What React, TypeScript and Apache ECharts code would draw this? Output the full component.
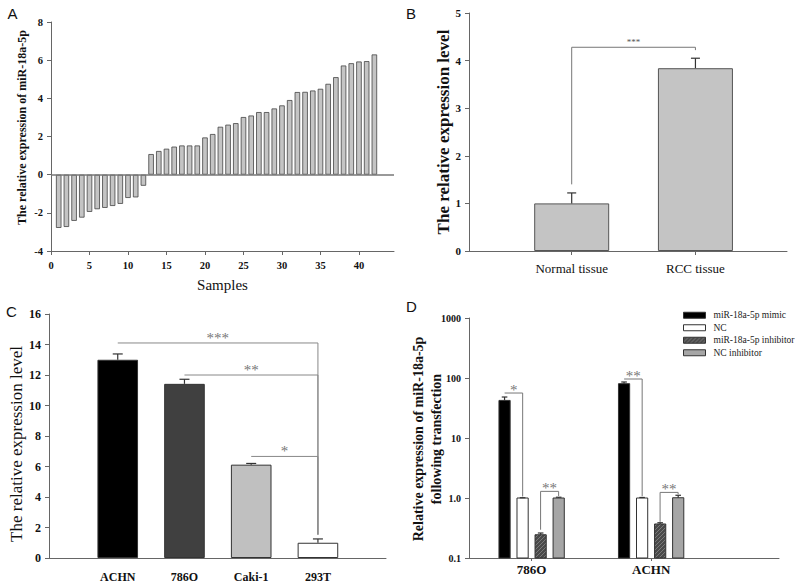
import React, { useEffect, useRef } from "react";
import * as echarts from "echarts";

// ---------- Panel A ----------
const samplesA = [1, 2, 3, 4, 5, 6, 7, 8, 9, 10, 11, 12, 13, 14, 15, 16, 17, 18, 19, 20, 21, 22, 23, 24, 25, 26, 27, 28, 29, 30, 31, 32, 33, 34, 35, 36, 37, 38, 39, 40, 41, 42];
const valuesA = [-2.79, -2.74, -2.42, -2.25, -1.95, -1.81, -1.74, -1.64, -1.53, -1.22, -1.19, -0.58, 1.08, 1.24, 1.36, 1.47, 1.53, 1.53, 1.53, 1.95, 2.13, 2.51, 2.62, 2.7, 3.02, 3.1, 3.28, 3.28, 3.47, 3.63, 3.91, 4.33, 4.34, 4.41, 4.5, 4.76, 5.11, 5.72, 5.84, 5.93, 5.95, 6.3];
const xTicksA = [0, 5, 10, 15, 20, 25, 30, 35, 40];

// ---------- Panel B ----------
const categoriesB = ["Normal tissue", "RCC tissue"];
const positionsB = [1, 2];
const valuesB = [1.0, 3.84];
const errorsB = [0.22, 0.21];
const bracketsB = [{ from: 1, to: 2, top: 4.28, leftBottom: 1.4, rightBottom: 4.22, label: "***" }];

// ---------- Panel C ----------
const categoriesC = ["ACHN", "786O", "Caki-1", "293T"];
const positionsC = [1, 2, 3, 4];
const valuesC = [13.0, 11.42, 6.12, 1.0];
const errorsC = [0.38, 0.3, 0.08, 0.25];
const colorsC = ["#000000", "#404040", "#c0c0c0", "#ffffff"];
const bracketsC = [
  { from: 1, to: 4, top: 14.1, leftBottom: 14.1, rightBottom: 1.53, label: "***" },
  { from: 2, to: 4, top: 12.0, leftBottom: 12.0, rightBottom: 1.53, label: "**" },
  { from: 3, to: 4, top: 6.66, leftBottom: 6.66, rightBottom: 1.53, label: "*" },
];

// ---------- Panel D ----------
const groupsD = ["786O", "ACHN"];
const groupPosD = [1, 2];
const seriesNamesD = ["miR-18a-5p mimic", "NC", "miR-18a-5p inhibitor", "NC inhibitor"];
const valuesD = [
  [42.3, 80.4],
  [1.0, 1.0],
  [0.244, 0.369],
  [1.0, 1.01],
];
const errorsD = [
  [5.9, 5.4],
  [0.01, 0.02],
  [0.017, 0.018],
  [0.03, 0.1],
];
const colorsD = ["#000000", "#ffffff", "#5a5a5a", "#a6a6a6"];
const yTicksD = [0.1, 1, 10, 100, 1000];
const bracketsD = [
  { from: 0.774, to: 0.925, top: 56.2, leftBottom: 56.2, rightBottom: 1.06, label: "*" },
  { from: 1.075, to: 1.226, top: 1.29, leftBottom: 0.296, rightBottom: 1.08, label: "**" },
  { from: 1.774, to: 1.925, top: 96.2, leftBottom: 96.2, rightBottom: 1.07, label: "**" },
  { from: 2.075, to: 2.226, top: 1.24, leftBottom: 0.4, rightBottom: 1.15, label: "**" },
];
const offsetStepD = 0.151;

const SERIF = "Liberation Serif";

function makeHatch(): any {
  try {
    const c = document.createElement("canvas");
    c.width = 4;
    c.height = 4;
    const ctx = c.getContext("2d");
    if (!ctx) return "#5a5a5a";
    ctx.fillStyle = "#4a4a4a";
    ctx.fillRect(0, 0, 4, 4);
    ctx.fillStyle = "#7a7a7a";
    ctx.fillRect(0, 0, 1, 1);
    ctx.fillRect(2, 2, 1, 1);
    ctx.fillRect(1, 3, 1, 1);
    ctx.fillRect(3, 1, 1, 1);
    return { image: c, repeat: "repeat" };
  } catch (e) {
    return "#5a5a5a";
  }
}

function errorRender(cap: number, color: string) {
  return (params: any, api: any) => {
    const x = api.value(0);
    const y = api.value(1);
    const e = api.value(2);
    const p0 = api.coord([x, y]);
    const p1 = api.coord([x, y + e]);
    return {
      type: "group",
      children: [
        { type: "line", shape: { x1: p0[0], y1: p0[1], x2: p1[0], y2: p1[1] }, style: { stroke: color, lineWidth: 1.2 } },
        { type: "line", shape: { x1: p1[0] - cap, y1: p1[1], x2: p1[0] + cap, y2: p1[1] }, style: { stroke: color, lineWidth: 1.2 } },
      ],
    };
  };
}

function bracketRender(defs: any[], fontSize: number, dy: number, color: string, starColor: string) {
  return (params: any, api: any) => {
    const x1 = api.value(0);
    const x2 = api.value(1);
    const yt = api.value(2);
    const yl = api.value(3);
    const yr = api.value(4);
    const a = api.coord([x1, yl]);
    const b = api.coord([x1, yt]);
    const c = api.coord([x2, yt]);
    const d = api.coord([x2, yr]);
    return {
      type: "group",
      children: [
        { type: "polyline", shape: { points: [a, b, c, d] }, style: { stroke: color, lineWidth: 1, fill: "none" } },
        {
          type: "text",
          x: (b[0] + c[0]) / 2,
          y: b[1] + dy,
          style: {
            text: defs[params.dataIndex].label,
            align: "center",
            verticalAlign: "middle",
            fontSize,
            fontFamily: SERIF,
            fill: starColor,
            stroke: "none",
            lineWidth: 0,
          },
        },
      ],
    };
  };
}

function dBarRender(halfW: number, yMin: number) {
  return (params: any, api: any) => {
    const x = api.value(0);
    const v = api.value(1);
    const top = api.coord([x, v]);
    const bot = api.coord([x, yMin]);
    return {
      type: "rect",
      shape: { x: top[0] - halfW, y: top[1], width: halfW * 2, height: bot[1] - top[1] },
      style: api.style(),
    };
  };
}

const axisLineStyle = { show: true, onZero: false, lineStyle: { color: "#666", width: 1 } };
const tickStyle = { show: true, length: 4, lineStyle: { color: "#666", width: 1 } };

export default function App() {
  const ref = useRef<HTMLDivElement>(null);

  useEffect(() => {
    if (!ref.current) return;
    const chart = echarts.init(ref.current, null, { renderer: "svg" });

    const hatch = makeHatch();
    const fillsD = colorsD.map((c, s) => (s === 2 ? hatch : c));

    const toBracketData = (arr: any[]) => arr.map((b) => [b.from, b.to, b.top, b.leftBottom, b.rightBottom]);
    const bracketEncode = { x: [0, 1], y: [2, 3, 4] };

    const dSeries: any[] = seriesNamesD.map((name, s) => ({
      type: "custom",
      name,
      xAxisIndex: 3,
      yAxisIndex: 3,
      renderItem: dBarRender(5.6, 0.1),
      itemStyle: { color: fillsD[s], borderColor: "#333", borderWidth: 1 },
      encode: { x: 0, y: 1 },
      data: groupPosD.map((g, i) => [g + (s - 1.5) * offsetStepD, valuesD[s][i]]),
      z: 2,
    }));
    const dErrors: any[] = [];
    seriesNamesD.forEach((_, s) => {
      groupPosD.forEach((g, i) => {
        dErrors.push([g + (s - 1.5) * offsetStepD, valuesD[s][i], errorsD[s][i]]);
      });
    });

    const option: any = {
      animation: false,
      backgroundColor: "#ffffff",
      textStyle: { fontFamily: SERIF },
      grid: [
        { left: 51, top: 22, width: 343, height: 229, containLabel: false, outerBoundsMode: "none" },
        { left: 469, top: 13, width: 318, height: 238, containLabel: false, outerBoundsMode: "none" },
        { left: 49, top: 314, width: 337, height: 244, containLabel: false, outerBoundsMode: "none" },
        { left: 469, top: 318, width: 310, height: 240, containLabel: false, outerBoundsMode: "none" },
      ],
      legend: {
        orient: "vertical",
        left: 683,
        top: 309,
        padding: 0,
        itemGap: 0,
        itemWidth: 22,
        itemHeight: 6,
        icon: "rect",
        selectedMode: false,
        textStyle: { fontFamily: SERIF, fontSize: 9.5, color: "#222", lineHeight: 12.5, padding: [0, 0, 0, 3] },
        data: seriesNamesD.map((n, s) => ({
          name: n,
          itemStyle: { color: fillsD[s], borderColor: "#333", borderWidth: 1 },
        })),
      },
      xAxis: [
        {
          gridIndex: 0,
          type: "value",
          min: 0,
          max: 44.55,
          axisLine: axisLineStyle,
          axisTick: { ...tickStyle, customValues: xTicksA },
          axisLabel: { customValues: xTicksA, margin: 9, fontFamily: SERIF, fontWeight: "bold", fontSize: 10.5, color: "#111" },
          splitLine: { show: false },
        },
        {
          gridIndex: 1,
          type: "value",
          min: 0.17,
          max: 2.74,
          axisLine: axisLineStyle,
          axisTick: { ...tickStyle, customValues: positionsB },
          axisLabel: {
            customValues: positionsB,
            formatter: (v: number) => categoriesB[positionsB.indexOf(v)] ?? "",
            margin: 11,
            fontFamily: SERIF,
            fontSize: 13,
            color: "#111",
          },
          splitLine: { show: false },
        },
        {
          gridIndex: 2,
          type: "value",
          min: -0.03,
          max: 5.02,
          axisLine: axisLineStyle,
          axisTick: { show: false, customValues: positionsC },
          axisLabel: {
            customValues: positionsC,
            formatter: (v: number) => categoriesC[positionsC.indexOf(v)] ?? "",
            margin: 13,
            fontFamily: SERIF,
            fontWeight: "bold",
            fontSize: 12,
            color: "#111",
          },
          splitLine: { show: false },
        },
        {
          gridIndex: 3,
          type: "value",
          min: 0.476,
          max: 3.07,
          axisLine: axisLineStyle,
          axisTick: { ...tickStyle, length: 3, customValues: groupPosD },
          axisLabel: {
            customValues: groupPosD,
            formatter: (v: number) => groupsD[groupPosD.indexOf(v)] ?? "",
            margin: 5,
            fontFamily: SERIF,
            fontWeight: "bold",
            fontSize: 13,
            color: "#111",
          },
          splitLine: { show: false },
        },
      ],
      yAxis: [
        {
          gridIndex: 0,
          type: "value",
          min: -4,
          max: 8,
          interval: 2,
          axisLine: axisLineStyle,
          axisTick: tickStyle,
          axisLabel: { margin: 8, fontFamily: SERIF, fontWeight: "bold", fontSize: 10.5, color: "#111" },
          splitLine: { show: false },
        },
        {
          gridIndex: 1,
          type: "value",
          min: 0,
          max: 5,
          interval: 1,
          axisLine: axisLineStyle,
          axisTick: tickStyle,
          axisLabel: { margin: 8, fontFamily: SERIF, fontWeight: "bold", fontSize: 11, color: "#111" },
          splitLine: { show: false },
        },
        {
          gridIndex: 2,
          type: "value",
          min: 0,
          max: 16,
          interval: 2,
          axisLine: axisLineStyle,
          axisTick: tickStyle,
          axisLabel: { margin: 8, fontFamily: SERIF, fontWeight: "bold", fontSize: 12, color: "#111" },
          splitLine: { show: false },
        },
        {
          gridIndex: 3,
          type: "log",
          logBase: 10,
          min: 0.1,
          max: 1000,
          axisLine: axisLineStyle,
          axisTick: { ...tickStyle, customValues: yTicksD },
          axisLabel: {
            customValues: yTicksD,
            margin: 8,
            fontFamily: SERIF,
            fontWeight: "bold",
            fontSize: 10,
            color: "#111",
            formatter: (v: number) => (v < 0.5 ? "0.1" : Math.abs(v - 1) < 1e-6 ? "1.0" : String(Math.round(v))),
          },
          minorTick: { show: false },
          splitLine: { show: false },
        },
      ],
      series: [
        // Panel A
        {
          type: "bar",
          xAxisIndex: 0,
          yAxisIndex: 0,
          barWidth: 5.5,
          itemStyle: { color: "#c4c4c4", borderColor: "#444", borderWidth: 0.8 },
          data: samplesA.map((s, i) => [s, valuesA[i]]),
          markLine: {
            silent: true,
            symbol: "none",
            label: { show: false },
            lineStyle: { color: "#777", type: "solid", width: 1.5 },
            data: [{ yAxis: 0 }],
          },
        },
        // Panel B
        {
          type: "bar",
          xAxisIndex: 1,
          yAxisIndex: 1,
          barWidth: 75,
          itemStyle: { color: "#c4c4c4", borderColor: "#555", borderWidth: 1 },
          data: positionsB.map((p, i) => [p, valuesB[i]]),
        },
        {
          type: "custom",
          xAxisIndex: 1,
          yAxisIndex: 1,
          itemStyle: { color: "#333" },
          renderItem: errorRender(4.5, "#333"),
          encode: { x: 0, y: 1 },
          data: positionsB.map((p, i) => [p, valuesB[i], errorsB[i]]),
          z: 3,
        },
        {
          type: "custom",
          xAxisIndex: 1,
          yAxisIndex: 1,
          itemStyle: { color: "#666" },
          renderItem: bracketRender(bracketsB, 9, -5, "#777", "#555"),
          encode: bracketEncode,
          data: toBracketData(bracketsB),
          z: 3,
        },
        // Panel C
        {
          type: "bar",
          xAxisIndex: 2,
          yAxisIndex: 2,
          barWidth: 40.6,
          data: positionsC.map((p, i) => ({
            value: [p, valuesC[i]],
            itemStyle: { color: colorsC[i], borderColor: "#333", borderWidth: 1 },
          })),
        },
        {
          type: "custom",
          xAxisIndex: 2,
          yAxisIndex: 2,
          itemStyle: { color: "#333" },
          renderItem: errorRender(5, "#333"),
          encode: { x: 0, y: 1 },
          data: positionsC.map((p, i) => [p, valuesC[i], errorsC[i]]),
          z: 3,
        },
        {
          type: "custom",
          xAxisIndex: 2,
          yAxisIndex: 2,
          itemStyle: { color: "#777" },
          renderItem: bracketRender(bracketsC, 15, -5, "#888", "#777"),
          encode: bracketEncode,
          data: toBracketData(bracketsC),
          z: 3,
        },
        // Panel D
        ...dSeries,
        {
          type: "custom",
          xAxisIndex: 3,
          yAxisIndex: 3,
          itemStyle: { color: "#333" },
          renderItem: errorRender(2.8, "#333"),
          encode: { x: 0, y: 1 },
          data: dErrors,
          z: 3,
        },
        {
          type: "custom",
          xAxisIndex: 3,
          yAxisIndex: 3,
          itemStyle: { color: "#777" },
          renderItem: bracketRender(bracketsD, 15, -3, "#777", "#777"),
          encode: bracketEncode,
          data: toBracketData(bracketsD),
          z: 3,
        },
      ],
      graphic: [
        { type: "text", x: 12.5, y: 13, style: { text: "A", fontFamily: "Liberation Sans", fontSize: 15, fill: "#111", align: "center", verticalAlign: "middle" } },
        { type: "text", x: 411, y: 13.5, style: { text: "B", fontFamily: "Liberation Sans", fontSize: 15, fill: "#111", align: "center", verticalAlign: "middle" } },
        { type: "text", x: 11.5, y: 311, style: { text: "C", fontFamily: "Liberation Sans", fontSize: 15, fill: "#111", align: "center", verticalAlign: "middle" } },
        { type: "text", x: 411.5, y: 306.5, style: { text: "D", fontFamily: "Liberation Sans", fontSize: 15, fill: "#111", align: "center", verticalAlign: "middle" } },
        {
          type: "text",
          x: 22,
          y: 127.5,
          rotation: Math.PI / 2,
          style: { text: "The relative expression of miR-18a-5p", fontFamily: SERIF, fontWeight: "bold", fontSize: 12, fill: "#111", align: "center", verticalAlign: "middle" },
        },
        {
          type: "text",
          x: 222.5,
          y: 285,
          style: { text: "Samples", fontFamily: SERIF, fontSize: 15, fill: "#111", align: "center", verticalAlign: "middle" },
        },
        {
          type: "text",
          x: 443,
          y: 132,
          rotation: Math.PI / 2,
          style: { text: "The relative expression level", fontFamily: SERIF, fontWeight: "bold", fontSize: 17, fill: "#111", align: "center", verticalAlign: "middle" },
        },
        {
          type: "text",
          x: 16,
          y: 444,
          rotation: Math.PI / 2,
          style: { text: "The relative expression level", fontFamily: SERIF, fontSize: 17, fill: "#111", align: "center", verticalAlign: "middle" },
        },
        {
          type: "text",
          x: 427.5,
          y: 439,
          rotation: Math.PI / 2,
          style: {
            text: "Relative expression of miR-18a-5p\nfollowing transfection",
            fontFamily: SERIF,
            fontWeight: "bold",
            fontSize: 14,
            lineHeight: 18,
            fill: "#111",
            align: "center",
            verticalAlign: "middle",
          },
        },
      ],
    };

    chart.setOption(option);
    return () => chart.dispose();
  }, []);

  return <div ref={ref} style={{ position: "absolute", left: 0, top: 0, width: 800, height: 585, background: "#fff" }} />;
}
